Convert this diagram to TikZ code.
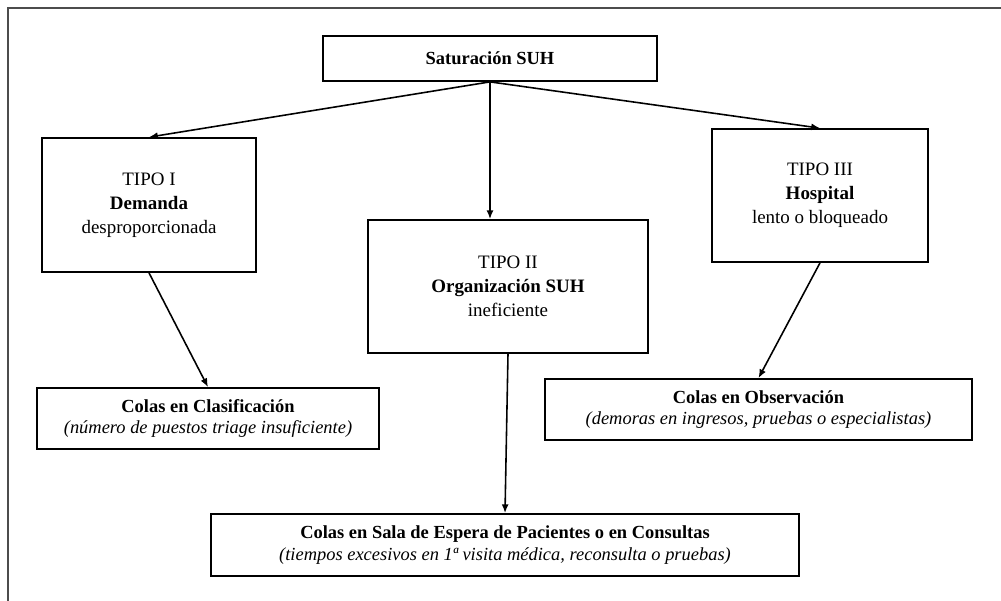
\documentclass[tikz,border=0pt]{standalone}
\usepackage{fontspec}
\setmainfont{Liberation Serif}
\usetikzlibrary{arrows.meta}
\begin{document}
\begin{tikzpicture}[x=0.02cm,y=-0.02cm,>={Latex[length=5pt,width=4pt]},
                caja/.style={draw,line width=1pt,align=center,inner sep=0pt,font=\fontsize{10.5}{12.4}\selectfont},
                tipo/.style={caja,font=\fontsize{10.8}{13.6}\selectfont},
                flecha/.style={->,line width=0.9pt}]
                \useasboundingbox (0,0) rectangle (1001,601);
                \draw[line width=1pt,black!70] (8,601) -- (8,8) -- (1001,8);
                \node[caja,minimum width=6.68cm,minimum height=0.9cm](sat) at (490,58.5){\textbf{Saturación SUH}};
                \node[tipo,minimum width=4.28cm,minimum height=2.68cm](t1) at (149,205){TIPO I\\\textbf{Demanda}\\desproporcionada};
                \node[tipo,minimum width=5.6cm,minimum height=2.66cm](t2) at (508,286.5){TIPO II\\\textbf{Organización SUH}\\ineficiente};
                \node[tipo,minimum width=4.32cm,minimum height=2.66cm](t3) at (820,195.5){TIPO III\\\textbf{Hospital}\\lento o bloqueado};
                \node[caja,minimum width=6.84cm,minimum height=1.22cm](cla) at (208,418.5){\textbf{Colas en Clasificación}\\\textit{(número de puestos triage insuficiente)}};
                \node[caja,minimum width=8.54cm,minimum height=1.22cm](obs) at (758.5,409.5){\textbf{Colas en Observación}\\\textit{(demoras en ingresos, pruebas o especialistas)}};
                \node[caja,minimum width=11.76cm,minimum height=1.24cm](sala) at (505,545){\textbf{Colas en Sala de Espera de Pacientes o en Consultas}\\\textit{(tiempos excesivos en 1ª visita médica, reconsulta o pruebas)}};
                \draw[flecha](sat.south) -- (t1.north);
                \draw[flecha](sat.south) -- (sat.south |- t2.north);
                \draw[flecha](sat.south) -- (t3.north);
                \draw[flecha](t1.south) -- (cla.north);
                \draw[flecha](t3.south) -- (obs.north);
                \draw[flecha](t2.south) -- (sala.north);
            \end{tikzpicture}
\end{document}
